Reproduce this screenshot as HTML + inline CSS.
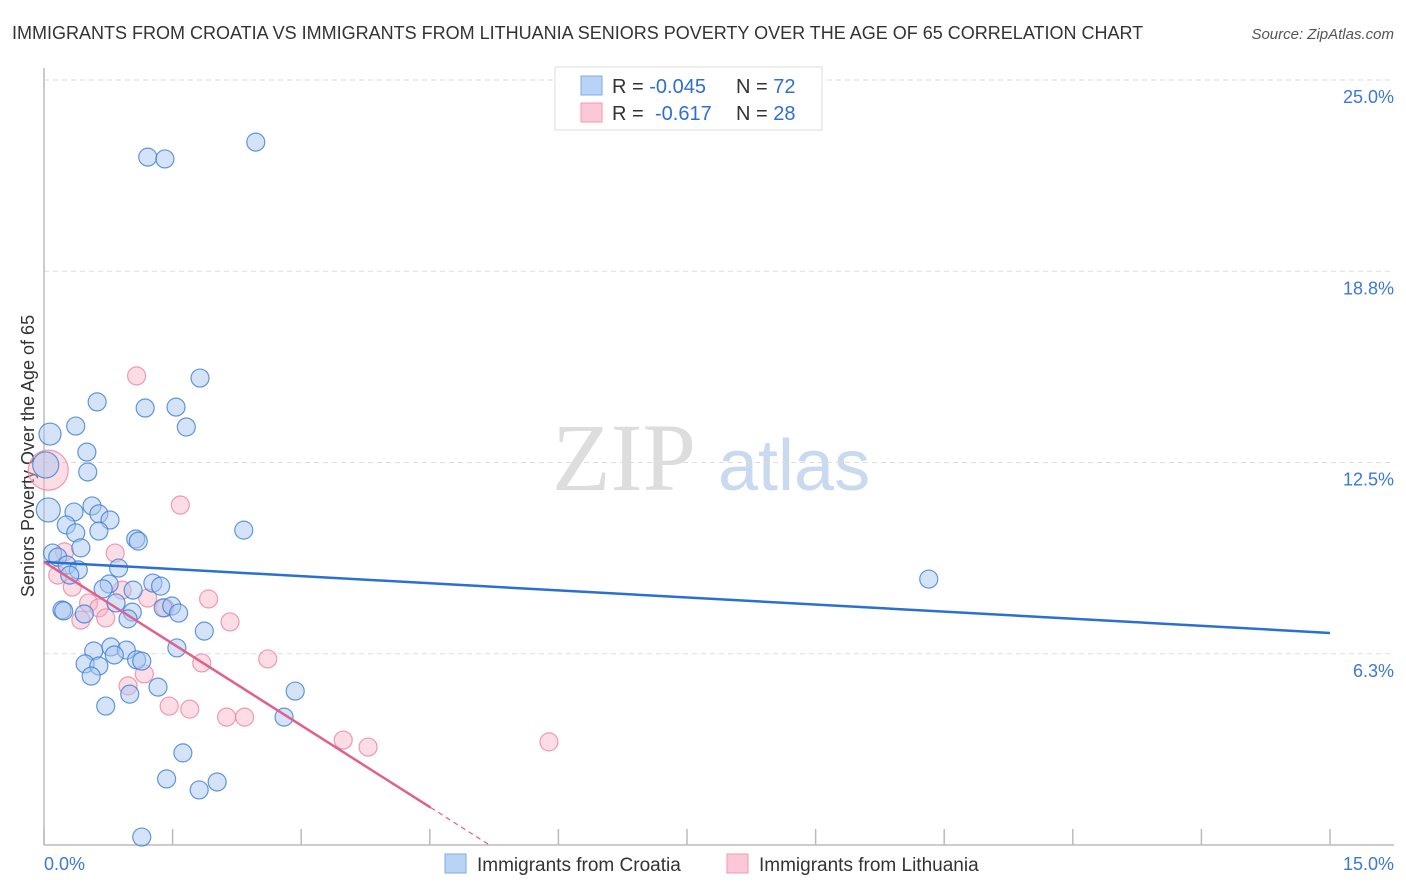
<!DOCTYPE html>
<html><head><meta charset="utf-8"><style>
body{margin:0;background:#fff;font-family:"Liberation Sans",sans-serif;}
#wrap{position:relative;width:1406px;height:892px;overflow:hidden;}
svg{position:absolute;left:0;top:0;}
</style></head><body><div id="wrap">
<svg id="c" width="1406" height="892">
<text x="12" y="39" font-size="18" fill="#333">IMMIGRANTS FROM CROATIA VS IMMIGRANTS FROM LITHUANIA SENIORS POVERTY OVER THE AGE OF 65 CORRELATION CHART</text>
<text x="1394" y="39" font-size="15" fill="#555" font-style="italic" text-anchor="end">Source: ZipAtlas.com</text>
<text x="34" y="456" font-size="18" fill="#333" text-anchor="middle" transform="rotate(-90 34 456)">Seniors Poverty Over the Age of 65</text>
<g><text x="552" y="490" font-size="96" font-family="Liberation Serif,serif" fill="#ddd">ZIP</text><text x="718" y="490" font-size="72" fill="#c9daf0">atlas</text></g>
<g id="grid"></g><g id="marks"></g>
<rect x="555" y="67" width="267" height="63" fill="#fff" stroke="#ddd"/>
<rect x="581" y="76" width="21" height="19" fill="#b8d3f3" stroke="#7aaee8"/>
<rect x="581" y="103" width="21" height="19" fill="#fbc8d8" stroke="#f09ab5"/>
<text x="612" y="93" font-size="20" fill="#333">R = <tspan fill="#2f6fd0">-0.045</tspan><tspan x="736">N = </tspan><tspan fill="#2f6fd0">72</tspan></text>
<text x="612" y="120" font-size="20" fill="#333">R = <tspan x="655" fill="#2f6fd0">-0.617</tspan><tspan x="736">N = </tspan><tspan fill="#2f6fd0">28</tspan></text>
<text x="44" y="870" font-size="18" fill="#3b78d8">0.0%</text>
<text x="1394" y="870" font-size="18" fill="#3b78d8" text-anchor="end">15.0%</text>
<rect x="445" y="854" width="21" height="19" fill="#b8d3f3" stroke="#7aaee8"/>
<text x="477" y="871" font-size="19" fill="#333">Immigrants from Croatia</text>
<rect x="727" y="854" width="21" height="19" fill="#fbc8d8" stroke="#f09ab5"/>
<text x="759" y="871" font-size="19" fill="#333">Immigrants from Lithuania</text>
</svg></div>
<script>
const yTicks=[25.0,18.75,12.5,6.25];
const yTickLabels=["25.0%","18.8%","12.5%","6.3%"];
const xTicks=[0,1.5,3,4.5,6,7.5,9,10.5,12,13.5,15];
const croatiaX=[2.47,1.21,1.41,1.82,0.62,1.18,1.54,0.07,0.37,1.66,0.50,0.51,0.02,0.05,0.56,0.35,0.64,0.77,0.26,0.37,0.64,2.33,1.07,1.10,0.43,0.10,0.16,0.27,0.40,0.30,0.87,10.32,1.27,1.36,0.76,0.69,1.04,0.84,0.21,0.23,0.47,1.03,0.98,1.39,1.49,1.57,1.87,0.78,0.96,0.82,0.58,1.08,1.14,1.55,0.48,0.64,0.55,1.33,1.00,2.93,0.72,2.80,1.62,1.43,2.02,1.81,1.14];
const croatiaY=[22.97,22.48,22.42,15.26,14.48,14.28,14.31,13.43,13.69,13.66,12.84,12.19,12.42,10.95,11.08,10.88,10.82,10.62,10.46,10.20,10.26,10.29,10.00,9.93,9.71,9.54,9.41,9.15,8.99,8.82,9.05,8.69,8.56,8.46,8.53,8.37,8.33,7.91,7.68,7.65,7.55,7.61,7.39,7.75,7.81,7.58,6.99,6.47,6.37,6.21,6.34,6.05,6.01,6.44,5.92,5.85,5.52,5.16,4.93,5.03,4.54,4.18,3.01,2.16,2.06,1.80,0.26];
const croatiaSize=[9,9,9,9,9,9,9,11,9,9,9,9,13,12,9,9,9,9,9,9,9,9,9,9,9,9,9,9,9,9,9,9,9,9,9,9,9,9,9,9,9,9,9,9,9,9,9,9,9,9,9,9,9,9,9,9,9,9,9,9,9,9,9,9,9,9,9];
const lithX=[1.08,1.59,0.05,0.83,0.24,0.16,0.33,0.52,1.21,1.92,0.64,0.43,0.72,1.41,2.17,1.84,2.61,1.17,0.98,1.46,1.70,2.13,2.34,3.49,3.78,5.89,0.91];
const lithY=[15.33,11.11,12.25,9.54,9.58,8.82,8.43,7.91,8.07,8.04,7.75,7.35,7.42,7.75,7.29,5.95,6.08,5.59,5.20,4.54,4.44,4.18,4.18,3.43,3.20,3.37,8.33];
const lithSize=[9,9,20,9,9,9,9,9,9,9,9,9,9,9,9,9,9,9,9,9,9,9,9,9,9,9,9];
const croatiaTrend=[9.25,6.93]; // y at x=0 and x=15
const lithTrend=[9.25,-1.78]; // intercept, slope
const X0=44,X1=1330,Y0=845,PY=30.6;
const sx=v=>X0+v/15*(X1-X0), sy=v=>Y0-v*PY;
const NS="http://www.w3.org/2000/svg";
function mk(t,a,p){const e=document.createElementNS(NS,t);for(const k in a)e.setAttribute(k,a[k]);p.appendChild(e);return e;}
const grid=document.getElementById('grid'),marks=document.getElementById('marks');
yTicks.forEach((t,i)=>{
 const l=mk('line',{x1:X0,x2:1394,y1:sy(t),y2:sy(t),stroke:'#ddd','stroke-dasharray':'5,4'},grid);
 
 
 const tx=mk('text',{x:1394,y:sy(t)+23,'font-size':18,fill:'#3b78d8','text-anchor':'end'},grid);
 tx.textContent=yTickLabels[i];
 
 
});
const ya=mk('line',{x1:X0,x2:X0,y1:68,y2:Y0,stroke:'#bbb','stroke-width':1.5},grid);


const xa=mk('line',{x1:X0,x2:1394,y1:Y0,y2:Y0,stroke:'#bbb','stroke-width':1.5},grid);


xTicks.forEach(t=>{
 const l=mk('line',{x1:sx(t),x2:sx(t),y1:Y0-16,y2:Y0,stroke:'#bbb','stroke-width':1.5},grid);
 
 
});
function pts(xs,ys,ss,fill,stroke,name){
 xs.forEach((x,i)=>{
  const c=mk('circle',{cx:sx(x),cy:sy(ys[i]),r:ss[i],fill:fill,stroke:stroke,'stroke-width':1.2},marks);
  
  
 });
}
pts(lithX,lithY,lithSize,'rgba(248,180,200,0.45)','rgba(236,130,165,0.8)','lithuania-point');
pts(croatiaX,croatiaY,croatiaSize,'rgba(170,200,240,0.5)','rgba(60,125,215,0.8)','croatia-point');
const bt=mk('line',{x1:sx(0),y1:sy(croatiaTrend[0]),x2:sx(15),y2:sy(croatiaTrend[1]),stroke:'#2a6fd4','stroke-width':2.5},marks);


const xe=4.51, xz=-lithTrend[0]/lithTrend[1];
const pt=mk('line',{x1:sx(0),y1:sy(lithTrend[0]),x2:sx(xe),y2:sy(lithTrend[0]+lithTrend[1]*xe),stroke:'#e0608e','stroke-width':2.5},marks);


const pd=mk('line',{x1:sx(xe),y1:sy(lithTrend[0]+lithTrend[1]*xe),x2:sx(xz),y2:sy(0),stroke:'#e0608e','stroke-width':1.2,'stroke-dasharray':'5,4'},marks);


</script></body></html>
